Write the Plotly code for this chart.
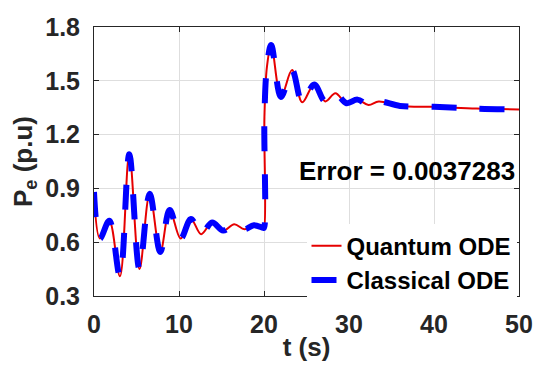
import plotly.graph_objects as go

# time (s) and electrical power Pe (p.u)
t_vals = [0.0, 0.7, 1.8, 3.05, 4.15, 5.35, 6.55, 7.8, 8.9, 10.2, 11.4, 12.6, 13.9, 15.2,
          16.5, 17.7, 18.8, 19.9, 20.0, 20.05, 20.35, 20.85, 22.0, 23.3, 24.5, 25.9,
          27.2, 28.4, 29.7, 31.0, 32.3, 33.5, 36.0, 40.0, 45.0, 50.0]
pe_quantum = [0.88, 0.62, 0.72, 0.41, 1.09, 0.45, 0.87, 0.545, 0.78, 0.62, 0.73, 0.645, 0.71, 0.665,
              0.70, 0.672, 0.695, 0.68, 0.68, 1.30, 1.58, 1.70, 1.41, 1.56, 1.38, 1.48,
              1.385, 1.43, 1.375, 1.395, 1.365, 1.385, 1.36, 1.355, 1.345, 1.34]
pe_classical = [0.88, 0.62, 0.72, 0.41, 1.09, 0.45, 0.87, 0.545, 0.78, 0.62, 0.73, 0.645, 0.71, 0.665,
                0.70, 0.672, 0.695, 0.68, 0.68, 1.30, 1.58, 1.70, 1.41, 1.56, 1.38, 1.48,
                1.385, 1.43, 1.375, 1.395, 1.365, 1.385, 1.36, 1.355, 1.345, 1.34]

x_ticks = [0, 10, 20, 30, 40, 50]
y_ticks = [0.3, 0.6, 0.9, 1.2, 1.5, 1.8]
y_tick_labels = ["0.3", "0.6", "0.9", "1.2", "1.5", "1.8"]
error_text = "Error = 0.0037283"

FONT = "Liberation Sans, Arial, sans-serif"
AX = "#262626"

fig = go.Figure()
fig.add_trace(go.Scatter(x=t_vals, y=pe_quantum, mode="lines", name="Quantum ODE",
                         line=dict(color="#e60000", width=2, shape="spline", smoothing=1)))
fig.add_trace(go.Scatter(x=t_vals, y=pe_classical, mode="lines", name="Classical ODE",
                         line=dict(color="#0000ff", width=6, dash="25px,23px",
                                   shape="spline", smoothing=1)))

axis_common = dict(showline=True, linecolor=AX, linewidth=1, mirror="ticks",
                   ticks="inside", ticklen=5, tickcolor=AX, showgrid=True,
                   gridcolor="#dedede", gridwidth=1, zeroline=False, automargin=False,
                   tickfont=dict(family=FONT, size=25, color=AX, weight="bold"))

# the page body adds an 8px offset, so the figure is 8px smaller than the window
fig.update_layout(
    width=552, height=358,
    margin=dict(l=86, r=41, t=19, b=70),
    paper_bgcolor="white", plot_bgcolor="white",
    xaxis=dict(range=[0, 50], tickvals=x_ticks, ticklabelstandoff=6,
               title=dict(text="t (s)", standoff=0,
                          font=dict(family=FONT, size=26, color=AX, weight="bold")),
               **axis_common),
    yaxis=dict(range=[0.3, 1.8], tickvals=y_ticks, ticktext=y_tick_labels, ticklabelstandoff=8,
               title=dict(text="P<sub>e</sub> (p.u)", standoff=15,
                          font=dict(family=FONT, size=26, color=AX, weight="bold")),
               **axis_common),
    legend=dict(x=0.5, y=-0.025, xanchor="left", yanchor="bottom", bgcolor="white",
                borderwidth=0, tracegroupgap=0,
                font=dict(family=FONT, size=24, color="black", weight="bold")),
    annotations=[dict(text=error_text, xref="paper", yref="paper", x=0.995, y=0.465,
                      xanchor="right", yanchor="middle", showarrow=False,
                      font=dict(family=FONT, size=26, color="black", weight="bold"))],
)

fig.write_html("out.html")
